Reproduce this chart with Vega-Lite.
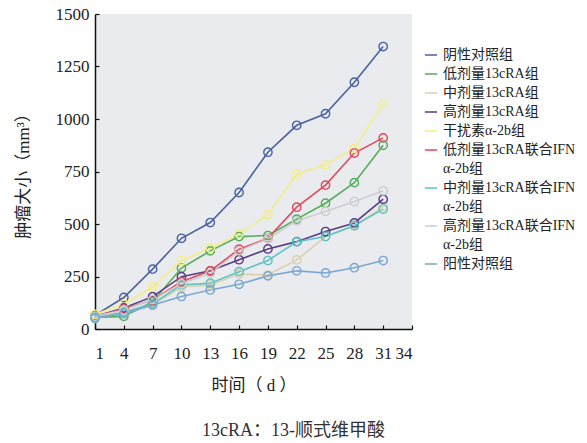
{
  "$schema": "https://vega.github.io/schema/vega-lite/v6.json",
  "autosize": "none",
  "width": 317,
  "height": 315,
  "padding": {"left": 95, "top": 14, "right": 175, "bottom": 114},
  "background": "white",
  "config": {
    "view": {"fill": "#e9ebef", "stroke": null},
    "font": "Liberation Serif, Noto Sans CJK SC",
    "axis": {
      "labelFont": "Liberation Serif, Noto Sans CJK SC",
      "titleFont": "Liberation Serif, Noto Sans CJK SC",
      "labelFontSize": 17,
      "titleFontSize": 17,
      "titleFontWeight": "normal",
      "labelColor": "#222",
      "titleColor": "#222",
      "domainColor": "#111",
      "domainWidth": 1.5,
      "tickColor": "#111",
      "tickWidth": 1.2,
      "grid": false
    },
    "legend": {
      "labelFont": "Liberation Serif, Noto Sans CJK SC",
      "labelFontSize": 14,
      "labelColor": "#222"
    }
  },
  "title": {
    "text": "13cRA：13-顺式维甲酸",
    "orient": "bottom",
    "anchor": "middle",
    "dx": 40,
    "offset": 29,
    "font": "Liberation Serif, Noto Sans CJK SC",
    "fontSize": 18,
    "fontWeight": "normal",
    "color": "#333"
  },
  "datasets": {
    "tumor": [
      {"g": "阴性对照组", "d": 1, "v": 65}, {"g": "阴性对照组", "d": 4, "v": 150}, {"g": "阴性对照组", "d": 7, "v": 285}, {"g": "阴性对照组", "d": 10, "v": 432}, {"g": "阴性对照组", "d": 13, "v": 507}, {"g": "阴性对照组", "d": 16, "v": 650}, {"g": "阴性对照组", "d": 19, "v": 842}, {"g": "阴性对照组", "d": 22, "v": 970}, {"g": "阴性对照组", "d": 25, "v": 1025}, {"g": "阴性对照组", "d": 28, "v": 1175}, {"g": "阴性对照组", "d": 31, "v": 1345},
      {"g": "低剂量13cRA组", "d": 1, "v": 55}, {"g": "低剂量13cRA组", "d": 4, "v": 60}, {"g": "低剂量13cRA组", "d": 7, "v": 130}, {"g": "低剂量13cRA组", "d": 10, "v": 290}, {"g": "低剂量13cRA组", "d": 13, "v": 372}, {"g": "低剂量13cRA组", "d": 16, "v": 440}, {"g": "低剂量13cRA组", "d": 19, "v": 445}, {"g": "低剂量13cRA组", "d": 22, "v": 523}, {"g": "低剂量13cRA组", "d": 25, "v": 599}, {"g": "低剂量13cRA组", "d": 28, "v": 697}, {"g": "低剂量13cRA组", "d": 31, "v": 875},
      {"g": "中剂量13cRA组", "d": 1, "v": 60}, {"g": "中剂量13cRA组", "d": 4, "v": 80}, {"g": "中剂量13cRA组", "d": 7, "v": 115}, {"g": "中剂量13cRA组", "d": 10, "v": 200}, {"g": "中剂量13cRA组", "d": 13, "v": 210}, {"g": "中剂量13cRA组", "d": 16, "v": 262}, {"g": "中剂量13cRA组", "d": 19, "v": 257}, {"g": "中剂量13cRA组", "d": 22, "v": 329}, {"g": "中剂量13cRA组", "d": 25, "v": 440}, {"g": "中剂量13cRA组", "d": 28, "v": 490}, {"g": "中剂量13cRA组", "d": 31, "v": 583},
      {"g": "高剂量13cRA组", "d": 1, "v": 60}, {"g": "高剂量13cRA组", "d": 4, "v": 100}, {"g": "高剂量13cRA组", "d": 7, "v": 154}, {"g": "高剂量13cRA组", "d": 10, "v": 249}, {"g": "高剂量13cRA组", "d": 13, "v": 277}, {"g": "高剂量13cRA组", "d": 16, "v": 330}, {"g": "高剂量13cRA组", "d": 19, "v": 381}, {"g": "高剂量13cRA组", "d": 22, "v": 416}, {"g": "高剂量13cRA组", "d": 25, "v": 464}, {"g": "高剂量13cRA组", "d": 28, "v": 505}, {"g": "高剂量13cRA组", "d": 31, "v": 618},
      {"g": "干扰素α-2b组", "d": 1, "v": 70}, {"g": "干扰素α-2b组", "d": 4, "v": 118}, {"g": "干扰素α-2b组", "d": 7, "v": 200}, {"g": "干扰素α-2b组", "d": 10, "v": 325}, {"g": "干扰素α-2b组", "d": 13, "v": 385}, {"g": "干扰素α-2b组", "d": 16, "v": 453}, {"g": "干扰素α-2b组", "d": 19, "v": 544}, {"g": "干扰素α-2b组", "d": 22, "v": 737}, {"g": "干扰素α-2b组", "d": 25, "v": 782}, {"g": "干扰素α-2b组", "d": 28, "v": 860}, {"g": "干扰素α-2b组", "d": 31, "v": 1073},
      {"g": "低剂量13cRA联合IFNα-2b组", "d": 1, "v": 60}, {"g": "低剂量13cRA联合IFNα-2b组", "d": 4, "v": 95}, {"g": "低剂量13cRA联合IFNα-2b组", "d": 7, "v": 138}, {"g": "低剂量13cRA联合IFNα-2b组", "d": 10, "v": 225}, {"g": "低剂量13cRA联合IFNα-2b组", "d": 13, "v": 277}, {"g": "低剂量13cRA联合IFNα-2b组", "d": 16, "v": 380}, {"g": "低剂量13cRA联合IFNα-2b组", "d": 19, "v": 432}, {"g": "低剂量13cRA联合IFNα-2b组", "d": 22, "v": 580}, {"g": "低剂量13cRA联合IFNα-2b组", "d": 25, "v": 685}, {"g": "低剂量13cRA联合IFNα-2b组", "d": 28, "v": 838}, {"g": "低剂量13cRA联合IFNα-2b组", "d": 31, "v": 910},
      {"g": "中剂量13cRA联合IFNα-2b组", "d": 1, "v": 50}, {"g": "中剂量13cRA联合IFNα-2b组", "d": 4, "v": 80}, {"g": "中剂量13cRA联合IFNα-2b组", "d": 7, "v": 120}, {"g": "中剂量13cRA联合IFNα-2b组", "d": 10, "v": 210}, {"g": "中剂量13cRA联合IFNα-2b组", "d": 13, "v": 218}, {"g": "中剂量13cRA联合IFNα-2b组", "d": 16, "v": 273}, {"g": "中剂量13cRA联合IFNα-2b组", "d": 19, "v": 326}, {"g": "中剂量13cRA联合IFNα-2b组", "d": 22, "v": 416}, {"g": "中剂量13cRA联合IFNα-2b组", "d": 25, "v": 440}, {"g": "中剂量13cRA联合IFNα-2b组", "d": 28, "v": 493}, {"g": "中剂量13cRA联合IFNα-2b组", "d": 31, "v": 571},
      {"g": "高剂量13cRA联合IFNα-2b组", "d": 1, "v": 60}, {"g": "高剂量13cRA联合IFNα-2b组", "d": 4, "v": 90}, {"g": "高剂量13cRA联合IFNα-2b组", "d": 7, "v": 140}, {"g": "高剂量13cRA联合IFNα-2b组", "d": 10, "v": 215}, {"g": "高剂量13cRA联合IFNα-2b组", "d": 13, "v": 265}, {"g": "高剂量13cRA联合IFNα-2b组", "d": 16, "v": 372}, {"g": "高剂量13cRA联合IFNα-2b组", "d": 19, "v": 430}, {"g": "高剂量13cRA联合IFNα-2b组", "d": 22, "v": 515}, {"g": "高剂量13cRA联合IFNα-2b组", "d": 25, "v": 560}, {"g": "高剂量13cRA联合IFNα-2b组", "d": 28, "v": 607}, {"g": "高剂量13cRA联合IFNα-2b组", "d": 31, "v": 658},
      {"g": "阳性对照组", "d": 1, "v": 55}, {"g": "阳性对照组", "d": 4, "v": 72}, {"g": "阳性对照组", "d": 7, "v": 114}, {"g": "阳性对照组", "d": 10, "v": 155}, {"g": "阳性对照组", "d": 13, "v": 186}, {"g": "阳性对照组", "d": 16, "v": 213}, {"g": "阳性对照组", "d": 19, "v": 253}, {"g": "阳性对照组", "d": 22, "v": 277}, {"g": "阳性对照组", "d": 25, "v": 267}, {"g": "阳性对照组", "d": 28, "v": 292}, {"g": "阳性对照组", "d": 31, "v": 326}
    ]
  },
  "data": {"name": "tumor"},
  "mark": {"type": "line", "strokeWidth": 1.6, "point": {"filled": false, "size": 70, "strokeWidth": 1.4}},
  "encoding": {
    "x": {
      "field": "d", "type": "quantitative",
      "scale": {"domain": [1, 34], "nice": false, "zero": false},
      "axis": {"values": [1, 4, 7, 10, 13, 16, 19, 22, 25, 28, 31, 34], "format": "d", "title": "时间（ d ）", "tickSize": -4, "labelPadding": 20, "titlePadding": 16}
    },
    "y": {
      "field": "v", "type": "quantitative",
      "scale": {"domain": [0, 1500], "nice": false},
      "axis": {"values": [0, 250, 500, 750, 1000, 1250, 1500], "format": "d", "title": "肿瘤大小（mm³）", "tickSize": -4, "labelPadding": 10, "titlePadding": 23}
    },
    "color": {
      "field": "g", "type": "nominal",
      "scale": {
        "domain": ["阴性对照组", "低剂量13cRA组", "中剂量13cRA组", "高剂量13cRA组", "干扰素α-2b组", "低剂量13cRA联合IFNα-2b组", "中剂量13cRA联合IFNα-2b组", "高剂量13cRA联合IFNα-2b组", "阳性对照组"],
        "range": ["#4a62a0", "#55ad5c", "#d9d0ae", "#5b3d85", "#f3ee84", "#e04a5c", "#5cc3c3", "#cdcdd2", "#7aa7d0"]
      },
      "legend": {
        "title": null,
        "orient": "none",
        "legendX": 329,
        "legendY": 34,
        "symbolType": "stroke",
        "symbolSize": 150,
        "symbolStrokeWidth": 1.5,
        "labelOffset": 5,
        "rowPadding": 5,
        "labelLimit": 300,
        "labelExpr": "indexof(datum.label, '联合IFN') > 0 ? [slice(datum.label, 0, indexof(datum.label, 'α')), slice(datum.label, indexof(datum.label, 'α'))] : datum.label",
        "encode": {"labels": {"update": {"lineHeight": {"value": 19}}}}
      }
    }
  }
}
